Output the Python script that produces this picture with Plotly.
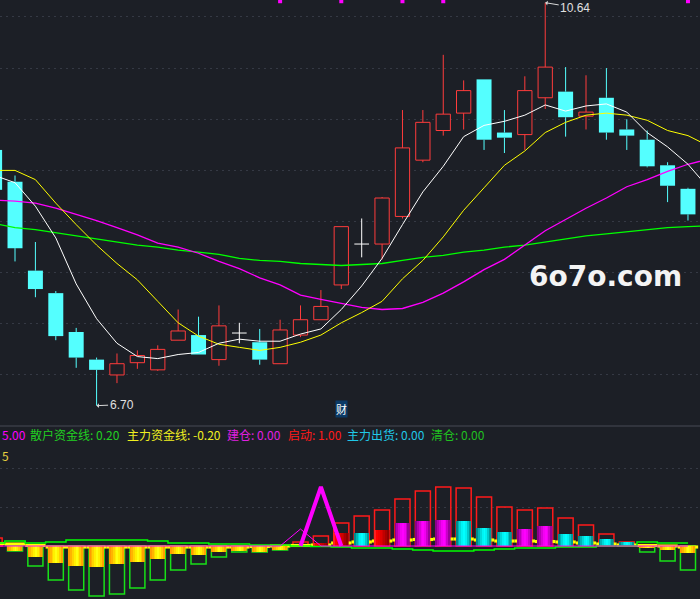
import plotly.graph_objects as go

# ---- price panel data (candle 0 is the one cut by the left edge) ----
opens  = [9.20, 8.89, 8.02, 7.80, 7.42, 7.15, 7.00, 7.12, 7.05, 7.34,
          7.39, 7.15, 7.41, 7.32, 7.11, 7.39, 7.54, 7.88, 8.28, 8.28,
          8.55, 9.10, 9.39, 9.56, 9.89, 9.37, 9.35, 9.71, 9.77, 9.53,
          9.71, 9.40, 9.30, 9.05, 8.82]
closes = [8.81, 8.24, 7.84, 7.38, 7.17, 7.05, 7.11, 7.19, 7.25, 7.43,
          7.20, 7.48, 7.41, 7.15, 7.44, 7.54, 7.67, 8.45, 8.28, 8.73,
          9.22, 9.47, 9.55, 9.78, 9.30, 9.32, 9.78, 10.01, 9.52, 9.57,
          9.37, 9.34, 9.04, 8.85, 8.57]
highs  = [9.25, 8.95, 8.30, 7.82, 7.46, 7.17, 7.21, 7.24, 7.29, 7.64,
          7.57, 7.68, 7.51, 7.45, 7.54, 7.68, 7.83, 8.45, 8.53, 8.74,
          9.59, 9.59, 10.13, 9.88, 9.89, 9.59, 9.92, 10.64, 10.01, 9.93,
          10.00, 9.50, 9.39, 9.08, 8.83]
lows   = [8.76, 8.11, 7.76, 7.34, 7.07, 6.70, 6.92, 7.06, 7.04, 7.34,
          7.20, 7.09, 7.31, 7.10, 7.11, 7.37, 7.54, 7.84, 8.15, 8.13,
          8.53, 9.08, 9.34, 9.40, 9.20, 9.17, 9.20, 9.60, 9.33, 9.40,
          9.30, 9.20, 9.03, 8.69, 8.51]

# moving averages (one extra point past the right edge)
ma5  = [8.95, 8.88, 8.65, 8.34, 7.89, 7.55, 7.31, 7.18, 7.16, 7.20,
        7.22, 7.31, 7.35, 7.33, 7.33, 7.40, 7.45, 7.64, 7.87, 8.14,
        8.47, 8.79, 9.04, 9.33, 9.44, 9.48, 9.54, 9.64, 9.58, 9.63,
        9.65, 9.57, 9.37, 9.23, 9.06, 8.83]
ma10 = [9.00, 9.00, 8.91, 8.68, 8.47, 8.27, 8.09, 7.93, 7.72, 7.51,
        7.38, 7.30, 7.27, 7.24, 7.27, 7.32, 7.39, 7.51, 7.61, 7.72,
        7.94, 8.12, 8.35, 8.61, 8.83, 9.05, 9.19, 9.37, 9.47, 9.54,
        9.56, 9.54, 9.49, 9.39, 9.34, 9.24]
ma20 = [8.71, 8.70, 8.68, 8.63, 8.57, 8.51, 8.44, 8.37, 8.29, 8.25,
        8.19, 8.11, 8.04, 7.95, 7.88, 7.78, 7.74, 7.70, 7.66, 7.64,
        7.65, 7.71, 7.80, 7.91, 8.03, 8.13, 8.27, 8.41, 8.52, 8.63,
        8.73, 8.84, 8.91, 8.99, 9.06, 9.11]
ma60 = [8.48, 8.44, 8.42, 8.39, 8.36, 8.33, 8.30, 8.27, 8.25, 8.22,
        8.20, 8.18, 8.14, 8.12, 8.11, 8.09, 8.08, 8.07, 8.08, 8.09,
        8.12, 8.15, 8.17, 8.20, 8.22, 8.25, 8.27, 8.30, 8.33, 8.36,
        8.38, 8.40, 8.42, 8.44, 8.45, 8.46]

signal_idx = [14, 17, 20, 22, 34]

# ---- indicator panel data ----
hollow = [2.05, -1.3, -5.13, -8.72, -11.28, -12.82, -12.31, -10.77, -8.72, -6.15,
          -4.62, -2.82, -1.54, -1.54, -1.03, 1.03, 2.56, 5.90, 7.69, 9.23,
          12.05, 14.10, 15.13, 14.87, 12.56, 10.00, 9.23, 9.74, 7.18, 5.38,
          3.08, 1.03, -1.54, -3.85, -6.15]
filled = [0, -1.28, -2.82, -4.36, -5.13, -5.38, -4.62, -4.10, -3.33, -2.05,
          -2.31, -1.54, -1.28, -1.54, -1.03, 0, 0.77, 3.33, 3.33, 4.10,
          5.90, 6.41, 6.67, 6.41, 4.62, 3.59, 4.36, 5.13, 3.08, 2.56,
          1.79, 1.03, -0.3, -1.03, -1.79]
filled_kind = ["y"] * 16 + ["r", "r", "c", "r", "m", "m", "m", "c", "c", "c",
                            "m", "m", "c", "c", "c", "c", "y", "y", "y"]
main_line = [0.64, 0.51, 0.13, -0.26, -0.26, -0.26, -0.26, -0.26, -0.26, -0.26,
             -0.26, -0.26, -0.26, -0.13, 0.0, 0.13, 0.26, 0.77, 1.03, 1.28,
             1.54, 1.67, 1.79, 1.79, 1.54, 1.28, 1.28, 1.15, 1.03, 0.77,
             0.51, 0.26, 0.13, 0.0, -0.26]
retail_line = [0.77, 1.28, 0.77, 1.03, 1.54, 1.54, 1.54, 1.54, 1.28, 0.77,
               0.77, 0.51, 0.51, 0.26, 0.26, 0.0, -0.1, -0.26, -0.51, -0.51,
               -0.77, -1.03, -1.28, -1.28, -1.03, -0.77, -0.51, -0.51, -0.26, -0.26,
               0.0, 0.0, 1.03, 0.77, 0.77]
jiancang = [0] * 15 + [4.36] + [0] * 19
qidong = [0] * 16 + [15.13] + [0] * 18

BG = "#1c1f26"
GRID = "#353944"
RED = "#ff3c3c"
CYAN = "#54ffff"

n = len(opens)
idx = list(range(n))
xr = [0.264, 34.59]
yr_top = [6.501, 10.666]
yr_bot = [-13.59, 30.77]

up = [i for i in idx if closes[i] > opens[i]]
down = [i for i in idx if closes[i] < opens[i]]
doji = [i for i in idx if closes[i] == opens[i]]

fig = go.Figure()

# candle bodies
fig.add_trace(go.Bar(x=up, y=[closes[i] - opens[i] for i in up], base=[opens[i] for i in up],
                     width=0.7, marker=dict(color=BG, line=dict(color=RED, width=1))))
fig.add_trace(go.Bar(x=down, y=[opens[i] - closes[i] for i in down], base=[closes[i] for i in down],
                     width=0.735, marker=dict(color=CYAN, line=dict(width=0))))


def wicks(ids):
    xs, ys = [], []
    for i in ids:
        top = max(opens[i], closes[i])
        bot = min(opens[i], closes[i])
        xs += [i, i, None, i, i, None]
        ys += [highs[i], top, None, bot, lows[i], None]
    return xs, ys


for ids, col in [(up, RED), (down, CYAN)]:
    wx, wy = wicks(ids)
    fig.add_trace(go.Scatter(x=wx, y=wy, mode="lines", line=dict(color=col, width=1)))

dx, dy = [], []
for i in doji:
    dx += [i, i, None, i - 0.36, i + 0.36, None]
    dy += [highs[i], lows[i], None, opens[i], opens[i], None]
fig.add_trace(go.Scatter(x=dx, y=dy, mode="lines", line=dict(color="#ffffff", width=1)))

# moving averages
ma_x = list(range(len(ma5)))
for vals, col, w in [(ma60, "#00ff00", 1.3), (ma20, "#ff00ff", 1.3),
                     (ma10, "#ffff00", 1), (ma5, "#ffffff", 1)]:
    fig.add_trace(go.Scatter(x=ma_x, y=vals, mode="lines", line=dict(color=col, width=w)))

fig.add_trace(go.Scatter(x=signal_idx, y=[yr_top[1] - 0.012] * len(signal_idx), mode="markers",
                         marker=dict(symbol="square", size=4, color="#ff00ff"), cliponaxis=False))

# ---- indicator panel ----
fig.add_trace(go.Bar(x=idx, y=hollow, width=0.74, xaxis="x2", yaxis="y2",
                     marker=dict(color="rgba(0,0,0,0)",
                                 line=dict(color=["#ff1a1a" if v > 0 else "#18e018" for v in hollow],
                                           width=1.5))))
fig.add_trace(go.Bar(x=idx, y=[0.8] * n, base=[v - 0.4 for v in main_line], width=1.0,
                     xaxis="x2", yaxis="y2", marker=dict(color="#ffff00", line=dict(width=0))))

palette = {
    "y": ["#ff9c00", "#ffb400", "#ffd400", "#fff000", "#ffff10", "#fff000", "#ffcc00", "#ffa400"],
    "c": ["#008c8c", "#00b4b4", "#00d8d8", "#00f4f4", "#00ffff", "#00f0f0", "#00c8c8", "#009a9a"],
    "m": ["#8c008c", "#b400b4", "#d800d8", "#f400f4", "#ff00ff", "#f000f0", "#c800c8", "#9a009a"],
    "r": ["#ff2020", "#ff0000", "#f00000", "#e00000", "#d00000", "#c00000", "#a80000", "#900000"],
}
slices = 8
sw = 0.72 / slices
for j in range(slices):
    fig.add_trace(go.Bar(x=idx, y=filled, width=sw, offset=-0.36 + j * sw,
                         xaxis="x2", yaxis="y2",
                         marker=dict(color=[palette[k][j] for k in filled_kind], line=dict(width=0))))

fig.add_trace(go.Scatter(x=idx, y=retail_line, mode="lines", line=dict(color="#00ff00", width=1.5, shape="hvh"),
                         xaxis="x2", yaxis="y2"))
fig.add_trace(go.Scatter(x=idx, y=jiancang, mode="lines", line=dict(color="#ff00ff", width=1),
                         xaxis="x2", yaxis="y2"))
qd = [qidong[i] if (qidong[i] or (i > 0 and qidong[i - 1]) or (i < n - 1 and qidong[i + 1])) else None
      for i in idx]
fig.add_trace(go.Scatter(x=idx, y=qd, mode="lines", line=dict(color="#ff00ff", width=4),
                         xaxis="x2", yaxis="y2"))

# ---- text ----
H = 599
W = 700
ann = []
legend = [
    (0, "5.00", "#ff00ff"),
    (28, "散户资金线: 0.20", "#22d022"),
    (125, "主力资金线: -0.20", "#f0f020"),
    (225, "建仓: 0.00", "#e020e0"),
    (286, "启动: 1.00", "#ff1a1a"),
    (345, "主力出货: 0.00", "#20c8e8"),
    (429, "清仓: 0.00", "#20c020"),
]
for px, txt, col in legend:
    ann.append(dict(x=px / W, y=1 - 434 / H, xref="paper", yref="paper", text=txt, showarrow=False,
                    xanchor="left", yanchor="middle",
                    font=dict(family="Noto Sans CJK SC", size=12, color=col)))
ann.append(dict(x=0, y=1 - 455 / H, xref="paper", yref="paper", text="5", showarrow=False,
                xanchor="left", yanchor="middle", font=dict(family="Noto Sans CJK SC", size=12, color="#e8d040")))
ann.append(dict(x=27, y=10.64, xref="x", yref="y", text="10.64", showarrow=True, ax=30, ay=5,
                arrowhead=1, arrowsize=0.8, arrowwidth=1, arrowcolor="#d8d8d8",
                font=dict(family="Liberation Sans", size=12, color="#e0e0e0")))
ann.append(dict(x=5, y=6.70, xref="x", yref="y", text="6.70", showarrow=True, ax=25, ay=-1,
                arrowhead=1, arrowsize=0.8, arrowwidth=1, arrowcolor="#d8d8d8",
                font=dict(family="Liberation Sans", size=12, color="#e0e0e0")))
ann.append(dict(x=17, y=1 - 418 / H, xref="x", yref="paper", text="财", showarrow=False,
                bgcolor="#0b3a66", borderpad=0,
                font=dict(family="Noto Sans CJK SC", size=11, color="#ffffff")))
ann.append(dict(x=605 / W, y=1 - 277 / H, xref="paper", yref="paper", text="<b>6o7o.com</b>",
                xanchor="center", yanchor="middle",
                showarrow=False, font=dict(family="DejaVu Sans", size=28, color="#f4f4f4")))

axis_common = dict(showticklabels=False, zeroline=False, showline=False, ticks="")
fig.update_layout(
    width=W, height=H,
    margin=dict(l=0, r=0, t=0, b=0),
    paper_bgcolor=BG, plot_bgcolor=BG,
    showlegend=False, barmode="overlay",
    xaxis=dict(domain=[0, 1], range=xr, visible=False, anchor="y"),
    yaxis=dict(domain=[1 - 426 / H, 1], range=yr_top, tickvals=[7.0 + 0.5 * k for k in range(8)],
               gridcolor=GRID, griddash="2px,4px", gridwidth=1, **axis_common),
    xaxis2=dict(domain=[0, 1], range=xr, visible=False, anchor="y2"),
    yaxis2=dict(domain=[0, 1 - 426 / H], range=yr_bot, tickvals=[10, 20],
                gridcolor=GRID, griddash="2px,4px", gridwidth=1, **axis_common),
    shapes=[dict(type="line", xref="paper", yref="paper", x0=0, x1=1, y0=1 - 426 / H, y1=1 - 426 / H,
                 line=dict(color="#464a54", width=1))],
    annotations=ann,
)

# page margin would shift the figure, drop it
fig.write_html("out.html", config={"displayModeBar": False},
               post_script="document.body.style.margin='0';")
